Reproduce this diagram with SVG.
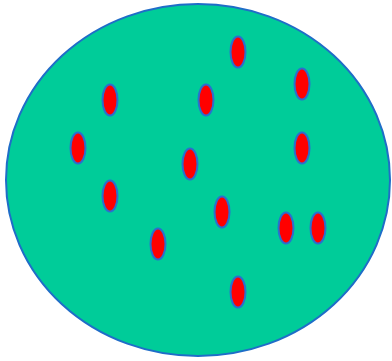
<svg xmlns="http://www.w3.org/2000/svg" width="392" height="361" viewBox="0 0 392 361">
<style>
.big{fill:#00CC99;stroke:#1F6DC8;stroke-width:2}
.dot{fill:#FF0000;stroke:#2A6FCF;stroke-width:2}
</style>
<rect width="392" height="361" fill="#FFFFFF"/>
<g id="cell"><ellipse class="big" cx="198" cy="180" rx="192" ry="176"/></g>
<g id="dots">
<ellipse class="dot" cx="238" cy="52" rx="7.5" ry="15.5"/>
<ellipse class="dot" cx="110" cy="100" rx="7.5" ry="15.5"/>
<ellipse class="dot" cx="206" cy="100" rx="7.5" ry="15.5"/>
<ellipse class="dot" cx="302" cy="84" rx="7.5" ry="15.5"/>
<ellipse class="dot" cx="78" cy="148" rx="7.5" ry="15.5"/>
<ellipse class="dot" cx="190" cy="164" rx="7.5" ry="15.5"/>
<ellipse class="dot" cx="302" cy="148" rx="7.5" ry="15.5"/>
<ellipse class="dot" cx="110" cy="196" rx="7.5" ry="15.5"/>
<ellipse class="dot" cx="222" cy="212" rx="7.5" ry="15.5"/>
<ellipse class="dot" cx="286" cy="228" rx="7.5" ry="15.5"/>
<ellipse class="dot" cx="318" cy="228" rx="7.5" ry="15.5"/>
<ellipse class="dot" cx="158" cy="244" rx="7.5" ry="15.5"/>
<ellipse class="dot" cx="238" cy="292" rx="7.5" ry="15.5"/>
</g>
</svg>
